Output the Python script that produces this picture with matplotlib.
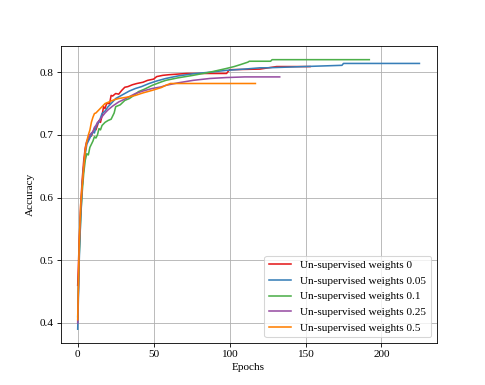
import matplotlib
matplotlib.use("Agg")
import matplotlib.pyplot as plt

plt.rcParams['font.family'] = ['Liberation Serif', 'DejaVu Serif']
plt.rcParams['font.size'] = 10.7

labels = ["Un-supervised weights 0", "Un-supervised weights 0.05",
          "Un-supervised weights 0.1", "Un-supervised weights 0.25",
          "Un-supervised weights 0.5"]
colors = ["#e41a1c", "#377eb8", "#4daf4a", "#984ea3", "#ff7f00"]

ep_w0 = [0, 1, 2, 3, 4, 5, 6, 7, 8, 9, 10, 11, 12, 13, 14, 15, 16, 17, 18, 19, 21,
         22, 23, 25, 27, 29, 31, 33, 36, 39, 43, 46, 50, 52, 56, 60, 72, 98, 100,
         120, 131, 153]
acc_w0 = [0.46, 0.53, 0.59, 0.63, 0.66, 0.68, 0.69, 0.693, 0.70, 0.698, 0.705,
          0.71, 0.708, 0.715, 0.723, 0.72, 0.73, 0.745, 0.742, 0.75, 0.75, 0.763,
          0.762, 0.766, 0.765, 0.771, 0.776, 0.777, 0.78, 0.782, 0.784, 0.787, 0.789,
          0.793, 0.795, 0.796, 0.798, 0.798, 0.804, 0.805, 0.809, 0.809]

ep_w005 = [0, 1, 2, 3, 4, 5, 6, 7, 8, 9, 10, 11, 12, 13, 14, 16, 18, 20, 22, 25,
           28, 31, 34, 38, 42, 47, 52, 58, 66, 76, 87, 98, 110, 120, 124, 174, 175, 225]
acc_w005 = [0.39, 0.50, 0.57, 0.62, 0.65, 0.67, 0.685, 0.69, 0.695, 0.70, 0.705,
            0.703, 0.712, 0.718, 0.72, 0.734, 0.738, 0.745, 0.75, 0.758, 0.762,
            0.766, 0.77, 0.774, 0.777, 0.782, 0.786, 0.79, 0.794, 0.7975, 0.80,
            0.803, 0.805, 0.807, 0.807, 0.811, 0.814, 0.814]

ep_w01 = [0, 1, 2, 3, 4, 5, 6, 7, 8, 9, 10, 11, 12, 13, 14, 15, 16, 18, 20, 22, 24,
          25, 28, 31, 34, 37, 40, 44, 49, 55, 58, 66, 76, 87, 98, 103, 107, 112,
          113, 127, 128, 192]
acc_w01 = [0.41, 0.51, 0.57, 0.61, 0.64, 0.66, 0.67, 0.668, 0.68, 0.685, 0.69,
           0.697, 0.695, 0.70, 0.71, 0.708, 0.715, 0.72, 0.723, 0.725, 0.735, 0.745,
           0.748, 0.755, 0.758, 0.763, 0.769, 0.773, 0.779, 0.7845, 0.787, 0.791,
           0.795, 0.80, 0.806, 0.809, 0.812, 0.816, 0.8175, 0.8175, 0.820, 0.820]

ep_w025 = [0, 1, 2, 3, 4, 5, 6, 7, 8, 9, 10, 11, 12, 13, 14, 16, 18, 20, 23, 27,
           30, 34, 38, 43, 49, 55, 58, 66, 76, 87, 98, 110, 133]
acc_w025 = [0.40, 0.52, 0.58, 0.62, 0.65, 0.675, 0.69, 0.695, 0.70, 0.703, 0.705,
            0.712, 0.715, 0.72, 0.722, 0.729, 0.735, 0.74, 0.746, 0.7526, 0.756,
            0.761, 0.766, 0.77, 0.774, 0.7766, 0.779, 0.783, 0.787, 0.79, 0.7915,
            0.7925, 0.7925]

ep_w05 = [0, 1, 2, 3, 4, 5, 6, 7, 8, 9, 10, 11, 12, 14, 16, 18, 21, 24, 27, 32, 38,
          43, 49, 55, 58, 61, 100, 117]
acc_w05 = [0.405, 0.53, 0.59, 0.62, 0.65, 0.675, 0.69, 0.70, 0.7075, 0.72, 0.728,
           0.734, 0.735, 0.74, 0.745, 0.75, 0.753, 0.756, 0.758, 0.76, 0.763, 0.767,
           0.771, 0.7755, 0.779, 0.782, 0.782, 0.782]

epochs = [ep_w0, ep_w005, ep_w01, ep_w025, ep_w05]
accs = [acc_w0, acc_w005, acc_w01, acc_w025, acc_w05]

fig, ax = plt.subplots(figsize=(485 / 75.8, 385 / 75.8), dpi=75.8)
for x, y, lab, c in zip(epochs, accs, labels, colors):
    ax.plot(x, y, color=c, label=lab, linewidth=1.5)

ax.set_xlabel("Epochs")
ax.set_ylabel("Accuracy")
ax.grid(True)
ax.legend(loc="lower right")

fig.savefig("out.png")
